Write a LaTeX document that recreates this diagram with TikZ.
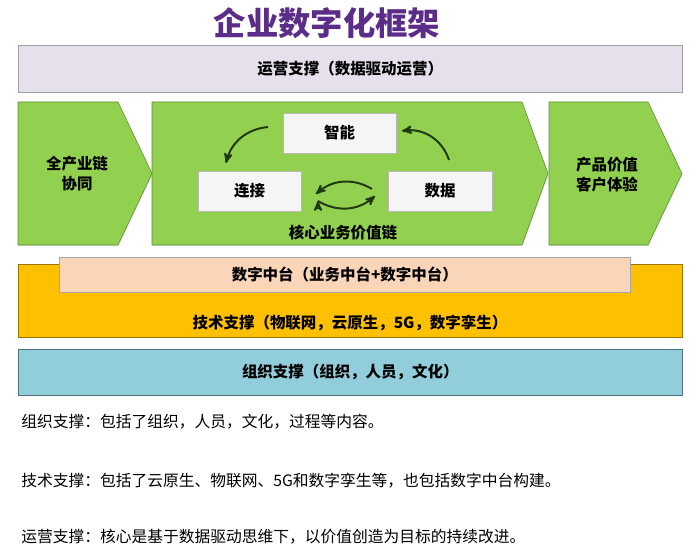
\documentclass[tikz,border=0pt]{standalone}
\usepackage{fontspec}
\setmainfont{Noto Sans CJK SC}
\usepackage{tikz}
\usetikzlibrary{positioning, arrows, shapes, shadows}
\newcommand\pxu{0.025cm}
\definecolor{titlepurple}{HTML}{5B2D88}
\definecolor{opsfill}{HTML}{E5E0EC}
\definecolor{leaffill}{HTML}{92D050}
\definecolor{leafdraw}{HTML}{5E8E32}
\definecolor{techfill}{HTML}{FFC000}
\definecolor{platfill}{HTML}{FBD5B8}
\definecolor{orgfill}{HTML}{92CDDC}
\definecolor{loopgreen}{HTML}{1F3A12}
\tikzset{
band/.style 2 args={rectangle, anchor=north west, inner sep=0pt, fill=#1, draw=#2, drop shadow={shadow xshift=0.4pt, shadow yshift=-0.8pt, opacity=0.35}}, % the wide bars
chev/.style={fill=leaffill, draw=leafdraw, line join=round, drop shadow={shadow xshift=0.4pt, shadow yshift=-0.8pt, opacity=0.25}}, % green arrows of the value chain
cell/.style={rectangle, fill=gray!8, draw=gray!55, font=\lbl, drop shadow={shadow xshift=0.6pt, shadow yshift=-0.8pt, opacity=0.35}}, % small grey boxes
cyc/.style={-stealth', line width=1.4pt, draw=loopgreen}, % the cycle arrows
}
\newcommand\lbl{\fontsize{11}{14.2}\selectfont\bfseries}
\newcommand\notefont{\fontsize{11.2}{14}\selectfont}

\begin{document}
\begin{tikzpicture}[x=\pxu, y=-\pxu]
        \useasboundingbox (0,0) rectangle (700,550);
        \node[text=titlepurple, font=\fontsize{23}{26}\selectfont\bfseries] (title) at (327,23) {企业数字化框架};
        % the bars
        \node[band={opsfill}{gray!75}, minimum width=664*\pxu, minimum height=47*\pxu, font=\lbl] (ops) at (18,45) {运营支撑（数据驱动运营）};
        \node[band={techfill}{techfill!60!black}, minimum width=664*\pxu, minimum height=73*\pxu] (tech) at (18,264) {};
        \node[band={platfill}{gray!70}, minimum width=571*\pxu, minimum height=35*\pxu, font=\lbl] (plat) at (59,257) {数字中台（业务中台+数字中台）};
        \node[font=\lbl] (techtxt) at (350,323) {技术支撑（物联网，云原生，5G，数字孪生）};
        \node[band={orgfill}{orgfill!55!black}, minimum width=664*\pxu, minimum height=46*\pxu, font=\lbl] (org) at (18,349) {组织支撑（组织，人员，文化）};
        % the value chain
        \path[chev] (18,102) -- (118,102) -- (152,173.5) -- (118,245) -- (18,245) -- cycle;
        \path[chev] (152,102) -- (522,102) -- (548,173.5) -- (522,245) -- (152,245) -- cycle;
        \path[chev] (549,102) -- (648,102) -- (682,173.5) -- (648,245) -- (549,245) -- cycle;
        \node[font=\lbl, align=center] (coop) at (77,174) {全产业链\\协同};
        \node[font=\lbl, align=center] (cust) at (607,175) {产品价值\\客户体验};
        \node[font=\lbl] (core) at (343,233) {核心业务价值链};
        \node[cell, minimum width=113*\pxu, minimum height=40*\pxu] (smart) at (339.5,133) {智能};
        \node[cell, minimum width=103*\pxu, minimum height=40*\pxu] (link) at (249.5,191) {连接};
        \node[cell, minimum width=104*\pxu, minimum height=40*\pxu] (data) at (440,191) {数据};
        % ends of the cycle arrows
        \coordinate (smartout) at (268,127);
        \coordinate (linkin) at (226,163);
        \coordinate (dataout) at (449,160);
        \coordinate (smartin) at (402,131);
        \coordinate (topr) at (372,189);
        \coordinate (topl) at (316,194);
        \coordinate (botl) at (318,201);
        \coordinate (botr) at (375,196);
        \draw[cyc] (smartout) edge[bend right=35] (linkin)
        (dataout) edge[bend right=40] (smartin)
        (topr) edge[bend right=36] (topl)
        (botl) edge[bend right=36] (botr);
        % notes below
        \node[anchor=west, font=\notefont, inner sep=0pt] (noteorg) at (21,422) {组织支撑：包括了组织，人员，文化，过程等内容。};
        \node[anchor=west, font=\notefont, inner sep=0pt] (notetech) at (21,481) {技术支撑：包括了云原生、物联网、5G和数字孪生等，也包括数字中台构建。};
        \node[anchor=west, font=\notefont, inner sep=0pt] (noteops) at (21,537) {运营支撑：核心是基于数据驱动思维下，以价值创造为目标的持续改进。};
\end{tikzpicture}
\end{document}
